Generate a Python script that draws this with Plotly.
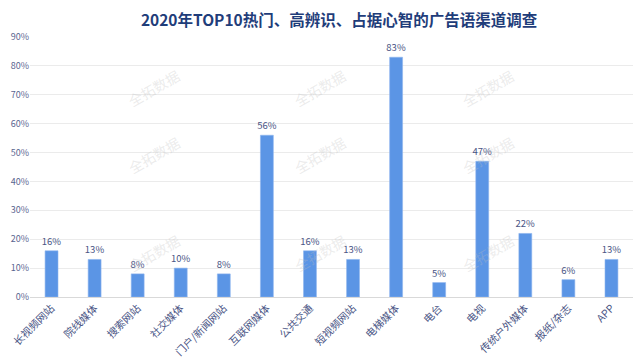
import plotly.graph_objects as go

categories = ["长视频网站", "院线媒体", "搜索网站", "社交媒体", "门户/新闻网站", "互联网媒体", "公共交通",
              "短视频网站", "电梯媒体", "电台", "电视", "传统户外媒体", "报纸/杂志", "APP"]
values = [16, 13, 8, 10, 8, 56, 16, 13, 83, 5, 47, 22, 6, 13]
tick_vals = [0, 10, 20, 30, 40, 50, 60, 70, 80, 90]
tick_text = [f"{v}%" for v in tick_vals]
labels = [f"{v}%" for v in values]

font_family = "Noto Sans CJK SC"

fig = go.Figure()
fig.add_trace(go.Bar(
    x=categories, y=values, text=labels, textposition="outside",
    constraintext="none",
    marker=dict(color="#5b95e5", line=dict(color="#8fb6ee", width=0.6)), width=0.3,
    textfont=dict(size=9.5, color="#4a5585", family=font_family),
    cliponaxis=False,
))

wm_x = [0.153, 0.481, 0.813]
wm_y = [0.9, 0.546, 0.073]
for wy in wm_y:
    for wx in wm_x:
        fig.add_annotation(x=wx, y=wy, xref="paper", yref="paper", text="全拓数据", showarrow=False,
                           textangle=-30, font=dict(size=14, color="rgba(190,190,190,0.3)", family=font_family))

fig.update_layout(
    width=633, height=355,
    margin=dict(l=22, r=8, t=29, b=66, autoexpand=False),
    plot_bgcolor="white", paper_bgcolor="white",
    title=dict(text="<b>2020年TOP10热门、高辨识、占据心智的广告语渠道调查</b>", x=0.523, xanchor="center",
               xref="container", y=0.98, yanchor="top",
               font=dict(size=15.5, color="#1f3d7a", family=font_family)),
    showlegend=False,
)
fig.update_xaxes(tickangle=-45, tickfont=dict(size=10.5, color="#4a5585", family=font_family),
                 showline=True, linecolor="#d9d9d9", ticks="", automargin=False)
fig.update_yaxes(range=[0, 90], tickvals=tick_vals, ticktext=tick_text,
                 tickfont=dict(size=9, color="#5a6590", family=font_family),
                 gridcolor="#ebebeb", zeroline=False, ticks="", automargin=False)

fig.write_html("out.html")
